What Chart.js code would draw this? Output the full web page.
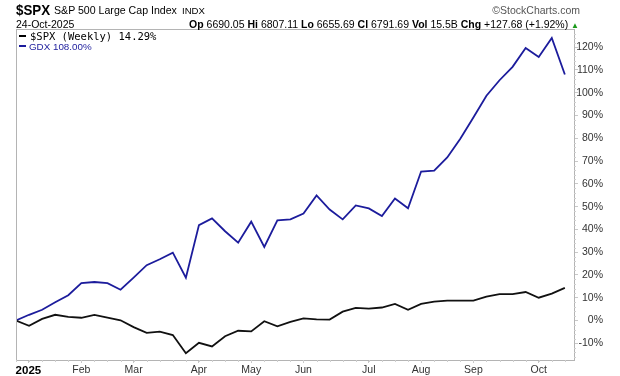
<!DOCTYPE html>
<html>
<head>
<meta charset="utf-8">
<script src="https://cdn.jsdelivr.net/npm/chart.js@4.4.1/dist/chart.umd.min.js"></script>
<style>
  html, body { margin: 0; padding: 0; background: #fff; }
  #wrap { position: relative; width: 620px; height: 376px; overflow: hidden; font-family: "Liberation Sans", Arial, sans-serif; }
  #c { position: absolute; left: 0; top: 0; }
  .t { position: absolute; white-space: pre; line-height: 1; color: #000; }
  .b { font-weight: bold; }
</style>
</head>
<body>
<div id="wrap">
  <canvas id="c" width="620" height="376"></canvas>
  <div class="t b" style="left:16px;top:2px;font-size:15.5px;transform:scaleX(0.86);transform-origin:0 0;">$SPX</div>
  <div class="t" style="left:54px;top:5px;font-size:10.6px;">S&amp;P 500 Large Cap Index</div>
  <div class="t" style="left:182px;top:6px;font-size:9.6px;">INDX</div>
  <div class="t" style="right:40px;top:5px;font-size:10.5px;color:#555;">©StockCharts.com</div>
  <div class="t" style="left:16px;top:19px;font-size:10.5px;">24-Oct-2025</div>
  <div class="t" style="right:41px;top:19px;font-size:10.5px;"><span class="b">Op</span> 6690.05 <span class="b">Hi</span> 6807.11 <span class="b">Lo</span> 6655.69 <span class="b">Cl</span> 6791.69 <span class="b">Vol</span> 15.5B <span class="b">Chg</span> +127.68 (+1.92%) <span style="color:#1a9a1a;font-size:8px;">▲</span></div>
  <div class="t" style="left:19px;top:31px;font-size:10.5px;font-family:'DejaVu Sans Mono',monospace;"><span style="display:inline-block;width:7px;height:2px;background:#000;vertical-align:3px;margin-right:4px;"></span>$SPX (Weekly) 14.29%</div>
  <div class="t" style="left:19px;top:42px;font-size:9.8px;color:#1c1c9c;"><span style="display:inline-block;width:7px;height:2px;background:#1c1c9c;vertical-align:3px;margin-right:3px;"></span>GDX 108.00%</div>
</div>
<script>
// Weekly closes (week ending), 2025
const weeks = ['Jan 3','Jan 10','Jan 17','Jan 24','Jan 31','Feb 7','Feb 14','Feb 21','Feb 28',
  'Mar 7','Mar 14','Mar 21','Mar 28','Apr 4','Apr 11','Apr 18','Apr 25','May 2','May 9','May 16',
  'May 23','May 30','Jun 6','Jun 13','Jun 20','Jun 27','Jul 4','Jul 11','Jul 18','Jul 25','Aug 1',
  'Aug 8','Aug 15','Aug 22','Aug 29','Sep 5','Sep 12','Sep 19','Sep 26','Oct 3','Oct 10','Oct 17','Oct 24'];

// $SPX weekly % change since start
const spxPct = [0, -2.3, 0.7, 2.5, 1.6, 1.2, 2.5, 1.3, 0.1, -2.9, -5.4, -4.9, -6.4, -14.4, -9.8,
  -11.4, -6.9, -4.5, -4.8, -0.3, -2.6, -0.6, 0.9, 0.5, 0.4, 3.9, 5.5, 5.2, 5.7, 7.3, 4.7, 7.3,
  8.3, 8.7, 8.7, 8.7, 10.5, 11.6, 11.6, 12.5, 10.0, 11.8, 14.29];

// GDX % change since start
const gdxPct = [0, 2.5, 4.7, 8.0, 11.1, 16.4, 16.9, 16.4, 13.5, 18.8, 24.3, 26.9, 29.8, 18.8, 41.9,
  44.8, 39.2, 34.2, 43.4, 32.3, 44.0, 44.4, 47.0, 54.9, 48.7, 44.4, 50.5, 49.2, 45.9, 53.6, 49.3,
  65.4, 65.8, 71.6, 79.8, 89.1, 98.7, 105.5, 111.4, 119.7, 115.7, 124.1, 108.0];

// X-axis labels and the week index where each sits
const monthLabels = ['2025','Feb','Mar','Apr','May','Jun','Jul','Aug','Sep','Oct'];
const monthPos = [0.95, 5, 9, 14, 18, 22, 27, 31, 35, 40];

// Y-axis tick values
const yTicks = [-10, 0, 10, 20, 30, 40, 50, 60, 70, 80, 90, 100, 110, 120];

const toPts = arr => arr.map((v, i) => ({ x: i, y: v }));

const framePlugin = {
  id: 'frame',
  beforeDraw(chart) {
    const ctx = chart.ctx;
    ctx.save();
    ctx.fillStyle = '#fff';
    ctx.fillRect(0, 0, chart.width, chart.height);
    ctx.restore();
  },
  afterDraw(chart) {
    const { ctx, chartArea: a, scales } = chart;
    ctx.save();
    ctx.strokeStyle = '#b4b4b4';
    ctx.lineWidth = 1;
    ctx.strokeRect(Math.round(a.left) + 0.5, Math.round(a.top) + 0.5,
      Math.round(a.right - a.left), Math.round(a.bottom - a.top));
    // minor ticks: every 2% on the right axis, every week on the bottom axis
    ctx.strokeStyle = '#cfcfcf';
    ctx.beginPath();
    for (let v = -16; v <= 126; v += 2) {
      if (v % 10 === 0) continue;
      const y = Math.round(scales.y.getPixelForValue(v)) + 0.5;
      ctx.moveTo(Math.round(a.right), y); ctx.lineTo(Math.round(a.right) + 2, y);
    }
    weeks.forEach((w, i) => {
      const x = Math.round(scales.x.getPixelForValue(i)) + 0.5;
      ctx.moveTo(x, Math.round(a.bottom)); ctx.lineTo(x, Math.round(a.bottom) + 2);
    });
    ctx.stroke();
    ctx.restore();
  }
};

new Chart(document.getElementById('c'), {
  type: 'line',
  data: {
    datasets: [
      { label: '$SPX (Weekly)', data: toPts(spxPct), borderColor: '#111', borderWidth: 1.8,
        pointRadius: 0, tension: 0, fill: false },
      { label: 'GDX', data: toPts(gdxPct), borderColor: '#1c1c9c', borderWidth: 1.8,
        pointRadius: 0, tension: 0, fill: false }
    ]
  },
  options: {
    responsive: false,
    animation: false,
    layout: { padding: { top: 29, left: 16, right: 17, bottom: 0 } },
    plugins: { legend: { display: false }, tooltip: { enabled: false } },
    scales: {
      x: {
        type: 'linear', min: 0, max: 42.7,
        afterBuildTicks: s => { s.ticks = monthPos.map(v => ({ value: v })); },
        afterFit: s => { s.height = 16; },
        ticks: {
          autoSkip: false, maxRotation: 0, padding: 1,
          callback: (v, i) => monthLabels[i],
          color: ctx => ctx.index === 0 ? '#000' : '#333',
          font: ctx => ctx.index === 0
            ? { family: 'Liberation Sans', size: 11.5, weight: 'bold' }
            : { family: 'Liberation Sans', size: 10.5 }
        },
        grid: { display: true, drawOnChartArea: false, tickLength: 3, color: '#c8c8c8' },
        border: { display: true, color: '#b4b4b4' }
      },
      y: {
        position: 'right', min: -17.35, max: 128,
        afterBuildTicks: s => { s.ticks = yTicks.map(v => ({ value: v })); },
        afterFit: s => { s.width = 29; },
        ticks: {
          crossAlign: 'far', padding: 4,
          callback: v => v + '%',
          color: '#333',
          font: { family: 'Liberation Sans', size: 10.5 }
        },
        grid: { display: true, drawOnChartArea: false, tickLength: 4, color: '#c8c8c8' },
        border: { display: true, color: '#b4b4b4' }
      }
    }
  },
  plugins: [framePlugin]
});
</script>
</body>
</html>
